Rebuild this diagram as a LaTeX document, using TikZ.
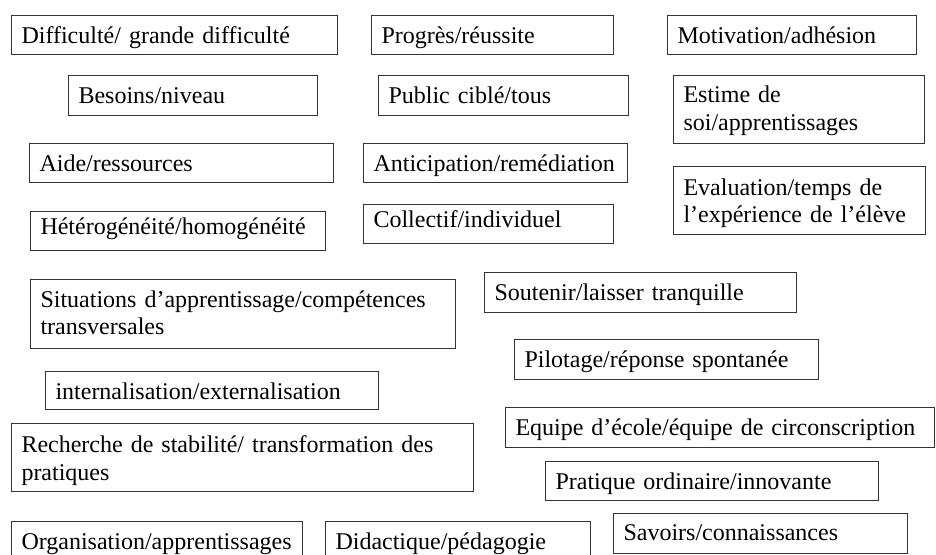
\documentclass[tikz,border=0pt]{standalone}
\usepackage{fontspec}
\setmainfont{Liberation Serif}
\tikzset{
  bx/.style n args={3}{draw=black!80, line width=1pt, anchor=north west,
    inner xsep=10pt, inner ysep=0pt, align=left,
    font=\fontsize{24}{27.6}\selectfont,
    text width=#1, text height=#2, text depth=#3}
}
\begin{document}
\begin{tikzpicture}[x=1pt,y=-1pt]
\useasboundingbox (0,0) rectangle (936,554);
\clip (0,0) rectangle (936,554);
\node[bx={306pt}{28pt}{11pt}] (diff) at (11,15) {Difficulté/ grande difficulté};
\node[bx={222pt}{28pt}{11pt}] (prog) at (371,15) {Progrès/réussite};
\node[bx={229pt}{28pt}{11pt}] (motiv) at (667,15) {Motivation/adhésion};
\node[bx={229pt}{28pt}{12pt}] (besoins) at (68,75) {Besoins/niveau};
\node[bx={230pt}{28pt}{12pt}] (public) at (378,75) {Public ciblé/tous};
\node[bx={231pt}{27pt}{41pt}] (estime) at (673,75) {Estime de\\soi/apprentissages};
\node[bx={284pt}{28pt}{11pt}] (aide) at (29,143) {Aide/ressources};
\node[bx={244pt}{28pt}{11pt}] (antic) at (363,143) {Anticipation/remédiation};
\node[bx={232pt}{28.5pt}{39.5pt}] (eval) at (673,166) {Evaluation/temps de\\l’expérience de l’élève};
\node[bx={275pt}{22.5pt}{16.5pt}] (hetero) at (30,211) {Hétérogénéité/homogénéité};
\node[bx={230pt}{22.5pt}{16.5pt}] (coll) at (363,204) {Collectif/individuel};
\node[bx={405pt}{27.5pt}{41.5pt}] (situ) at (30,279) {\mbox{Situations d’apprentissage/compétences}\\transversales};
\node[bx={292pt}{28pt}{12pt}] (sout) at (484,272) {Soutenir/laisser tranquille};
\node[bx={284pt}{28pt}{12pt}] (pilot) at (514,339) {Pilotage/réponse spontanée};
\node[bx={313pt}{27.5pt}{10.5pt}] (intern) at (45,371) {internalisation/externalisation};
\node[bx={409pt}{27.5pt}{12.5pt}] (equipe) at (505,407) {\mbox{Equipe d’école/équipe de circonscription}};
\node[bx={442pt}{29pt}{39pt}] (rech) at (11,423) {\mbox{Recherche de stabilité/ transformation des}\\pratiques};
\node[bx={313pt}{27.5pt}{11.5pt}] (prat) at (545,461) {Pratique ordinaire/innovante};
\node[bx={271pt}{28pt}{12pt}] (orga) at (11,521) {Organisation/apprentissages};
\node[bx={245pt}{28pt}{12pt}] (didac) at (325,521) {Didactique/pédagogie};
\node[bx={274pt}{27pt}{13pt}] (savoirs) at (613,513) {Savoirs/connaissances};
\end{tikzpicture}
\end{document}
